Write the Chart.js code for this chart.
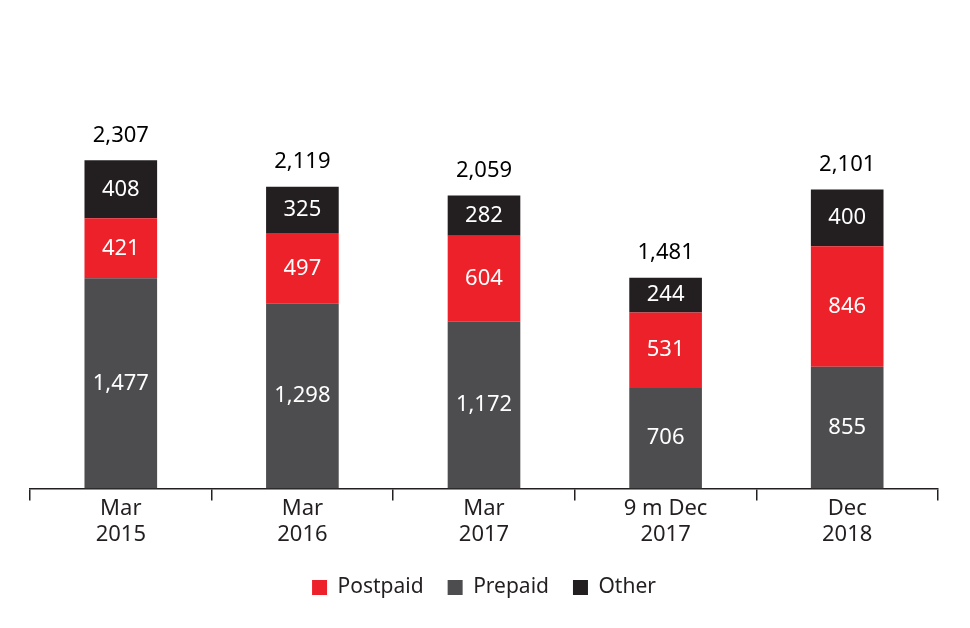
<!DOCTYPE html>
<html>
<head>
<meta charset="utf-8">
<script src="https://cdn.jsdelivr.net/npm/chart.js@4"></script>
<style>
  body { margin: 0; background: #fff; }
  #wrap { width: 970px; height: 628px; }
</style>
</head>
<body>
<div id="wrap"><canvas id="grafico" width="970" height="628"></canvas></div>
<script>
const periodos = [['Mar', '2015'], ['Mar', '2016'], ['Mar', '2017'], ['9 m Dec', '2017'], ['Dec', '2018']];
const prepaid = [1477, 1298, 1172, 706, 855];
const postpaid = [421, 497, 604, 531, 846];
const other = [408, 325, 282, 244, 400];
const totales = [2307, 2119, 2059, 1481, 2101];

const fuente = '"Noto Sans", "Open Sans", sans-serif';
const rojo = '#ED2129';
const gris = '#4D4D4F';
const negro = '#231F20';

function fmt(v) {
  return v.toLocaleString('en-US');
}

// etiquetas dentro de cada segmento y total arriba
const etiquetas = {
  id: 'etiquetas',
  afterDatasetsDraw(chart) {
    const ctx = chart.ctx;
    ctx.save();
    ctx.font = '22px ' + fuente;
    ctx.textAlign = 'center';
    ctx.textBaseline = 'middle';
    chart.data.datasets.forEach((ds, i) => {
      const meta = chart.getDatasetMeta(i);
      meta.data.forEach((bar, j) => {
        const y = (bar.y + bar.base) / 2;
        ctx.fillStyle = '#ffffff';
        ctx.fillText(fmt(ds.data[j]), bar.x, y);
      });
    });
    const top = chart.getDatasetMeta(chart.data.datasets.length - 1);
    top.data.forEach((bar, j) => {
      ctx.fillStyle = '#000000';
      ctx.fillText(fmt(totales[j]), bar.x, bar.y - 25);
    });
    ctx.restore();
  }
};

const ordenLeyenda = { 'Postpaid': 0, 'Prepaid': 1, 'Other': 2 };

new Chart(document.getElementById('grafico').getContext('2d'), {
  type: 'bar',
  data: {
    labels: periodos,
    datasets: [
      { label: 'Prepaid', data: prepaid, backgroundColor: gris },
      { label: 'Postpaid', data: postpaid, backgroundColor: rojo },
      { label: 'Other', data: other, backgroundColor: negro }
    ]
  },
  options: {
    responsive: false,
    animation: false,
    layout: { padding: { left: 30, right: 32, top: 20, bottom: 20 } },
    datasets: { bar: { categoryPercentage: 1, barPercentage: 0.4 } },
    plugins: {
      legend: {
        position: 'bottom',
        labels: {
          font: { family: fuente, size: 21 },
          color: negro,
          boxWidth: 15,
          boxHeight: 15,
          padding: 24,
          sort: (a, b) => ordenLeyenda[a.text] - ordenLeyenda[b.text]
        }
      },
      tooltip: { enabled: false }
    },
    scales: {
      x: {
        stacked: true,
        offset: true,
        afterFit: (scale) => { scale.height += 10; },
        grid: {
          offset: true,
          drawOnChartArea: false,
          drawTicks: true,
          tickLength: 12,
          color: negro,
          lineWidth: 1.5
        },
        border: { display: true, color: negro, width: 1.5 },
        ticks: {
          font: { family: fuente, size: 22, lineHeight: 1.15 },
          color: negro,
          padding: -4
        }
      },
      y: {
        stacked: true,
        display: false,
        min: 0,
        max: 3292
      }
    }
  },
  plugins: [etiquetas]
});
</script>
</body>
</html>
